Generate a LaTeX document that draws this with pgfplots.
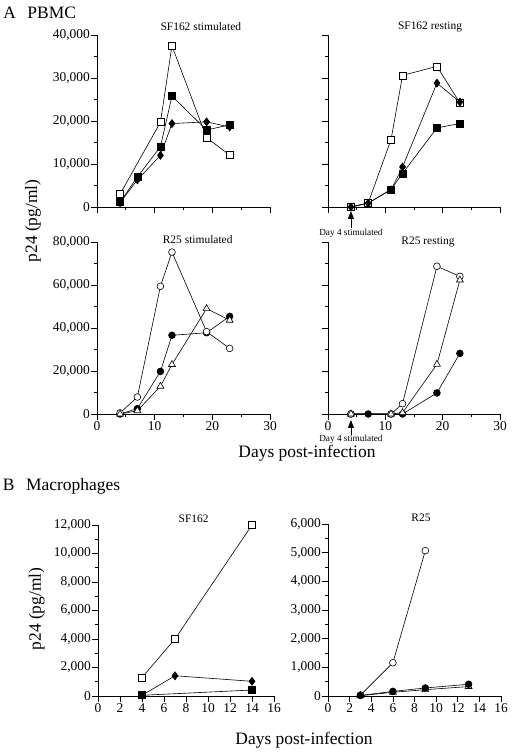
\documentclass[border=0pt]{standalone}
\usepackage{pgfplots}
\pgfplotsset{compat=1.18}
\usepackage{fontspec}
\setmainfont{Liberation Serif}
\usetikzlibrary{arrows.meta}

\pgfplotsset{
  panel/.style={
    scale only axis, width=173bp, height=172bp, anchor=south west,
    axis lines=left, axis line style={-, line width=0.7pt},
    tick align=outside, major tick length=6bp, minor tick length=3.5bp,
    every tick/.style={black, line width=0.7pt},
    enlargelimits=false, clip=false,
    xmin=0, xmax=30, xtick={0,10,20,30}, minor x tick num=1,
    minor y tick num=1, ymin=0,
    scaled y ticks=false,
    /pgf/number format/1000 sep={,},
    /pgf/number format/assume math mode=true,
    tick label style={font=\fontsize{13.5}{14}\selectfont, inner sep=1bp},
    every axis plot/.append style={black, line width=0.6pt},
  },
  osq/.style={mark=square*, mark options={fill=white, solid}, mark size=3.5bp},
  fsq/.style={mark=square*, mark options={fill=black, solid}, mark size=3.5bp},
  dia/.style={mark=diamond*, mark options={fill=black, solid}, mark size=4bp},
  ocir/.style={mark=*, mark options={fill=white, solid}, mark size=3.4bp},
  fcir/.style={mark=*, mark options={fill=black, solid}, mark size=3.4bp},
  otri/.style={mark=triangle*, mark options={fill=white, solid}, mark size=4bp},
}
\newcommand{\ttlfont}{\fontsize{11.5}{12}\selectfont}
\newcommand{\bigfont}{\fontsize{17.5}{19}\selectfont}
\newcommand{\smlfont}{\fontsize{9.3}{10}\selectfont}

\begin{document}
\begin{tikzpicture}[x=1bp,y=1bp]
\useasboundingbox (0,0) rectangle (516,756);

% ---------- SF162 stimulated ----------
\begin{axis}[panel, at={(97bp,549bp)}, width=173bp,
  ymax=40000, ytick={0,10000,20000,30000,40000}, xticklabels={}]
\addplot[osq] coordinates {(4,3000) (11,19700) (13,37500) (19,16100) (23,12100)};
\addplot[fsq] coordinates {(4,1100) (7,7000) (11,14000) (13,25800) (19,17900) (23,19100)};
\addplot[dia] coordinates {(4,1000) (7,6300) (11,12000) (13,19400) (19,19800) (23,18600)};
\end{axis}

% ---------- SF162 resting ----------
\begin{axis}[panel, at={(328bp,549bp)}, width=172bp,
  ymax=40000, ytick={0,10000,20000,30000,40000}, xticklabels={}, yticklabels={}]
\addplot[fsq] coordinates {(4,0) (7,900) (11,4100) (13,7800) (19,18400) (23,19400)};
\addplot[osq] coordinates {(4,0) (7,900) (11,15700) (13,30600) (19,32700) (23,24200)};
\addplot[dia] coordinates {(4,0) (7,900) (11,4000) (13,9300) (19,28800) (23,24400)};
\draw[-{Triangle[width=6bp,length=8bp]}, line width=0.8pt]
  ([yshift=-21bp]axis cs:4,0) -- ([yshift=-4bp]axis cs:4,0);
\node[font=\smlfont] at ([yshift=-26bp]axis cs:4,0) {Day 4 stimulated};
\end{axis}

% ---------- R25 stimulated ----------
\begin{axis}[panel, at={(97bp,342bp)}, width=173bp,
  ymax=80000, ytick={0,20000,40000,60000,80000}]
\addplot[fcir] coordinates {(4,0) (7,2500) (11,19800) (13,36600) (19,37800) (23,45400)};
\addplot[ocir] coordinates {(4,500) (7,7900) (11,59400) (13,75300) (19,38300) (23,30500)};
\addplot[otri] coordinates {(4,0) (7,1500) (11,12900) (13,23000) (19,49000) (23,43600)};
\end{axis}

% ---------- R25 resting ----------
\begin{axis}[panel, at={(328bp,342bp)}, width=172bp,
  ymax=80000, ytick={0,20000,40000,60000,80000}, yticklabels={}]
\addplot[fcir] coordinates {(4,0) (7,0) (11,0) (13,0) (19,9800) (23,28200)};
\addplot[ocir] coordinates {(4,0) (11,0) (13,4800) (19,68700) (23,64000)};
\addplot[otri] coordinates {(4,0) (11,0) (13,600) (19,23100) (23,62300)};
\draw[-{Triangle[width=6bp,length=8bp]}, line width=0.8pt]
  ([yshift=-21bp]axis cs:4,0) -- ([yshift=-6bp]axis cs:4,0);
\node[font=\smlfont] at ([yshift=-25.5bp]axis cs:4,0) {Day 4 stimulated};
\end{axis}

% ---------- Macrophages SF162 ----------
\begin{axis}[panel, at={(98bp,60bp)}, width=176bp, height=171bp,
  xmax=16, xtick={0,2,...,16}, minor x tick num=0,
  ymax=12000, ytick={0,2000,4000,6000,8000,10000,12000}]
\addplot[osq] coordinates {(4,1300) (7,4000) (14,12000)};
\addplot[dia] coordinates {(4,50) (7,1420) (14,1030)};
\addplot[fsq] coordinates {(4,50) (14,420)};
\end{axis}

% ---------- Macrophages R25 ----------
\begin{axis}[panel, at={(328bp,60bp)}, width=173bp, height=172bp,
  xmax=16, xtick={0,2,...,16}, minor x tick num=0,
  ymax=6000, ytick={0,1000,2000,3000,4000,5000,6000}]
\addplot[ocir] coordinates {(3,30) (6,1160) (9,5070)};
\addplot[otri] coordinates {(3,10) (6,130) (9,220) (13,330)};
\addplot[fcir] coordinates {(3,20) (6,160) (9,280) (13,410)};
\end{axis}

% ---------- texts ----------
\node[font=\ttlfont] at (200.8,729) {SF162 stimulated};
\node[font=\ttlfont] at (430,729) {SF162 resting};
\node[font=\ttlfont] at (197.7,516.7) {R25 stimulated};
\node[font=\ttlfont] at (428,514.3) {R25 resting};
\node[font=\ttlfont] at (193.7,237.7) {SF162};
\node[font=\ttlfont] at (421,238) {R25};

\node[font=\bigfont, anchor=base west, inner sep=0] at (3.3,737) {A};
\node[font=\bigfont, anchor=base west, inner sep=0] at (27.3,737) {PBMC};
\node[font=\bigfont, anchor=base west, inner sep=0] at (2.7,265.3) {B};
\node[font=\bigfont, anchor=base west, inner sep=0] at (26,265.3) {Macrophages};

\node[font=\bigfont, rotate=90] at (33,535) {p24 (pg/ml)};
\node[font=\bigfont, rotate=90] at (36.7,147) {p24 (pg/ml)};
\node[font=\bigfont] at (307,303) {Days post-infection};
\node[font=\bigfont] at (304,16) {Days post-infection};
\end{tikzpicture}
\end{document}
